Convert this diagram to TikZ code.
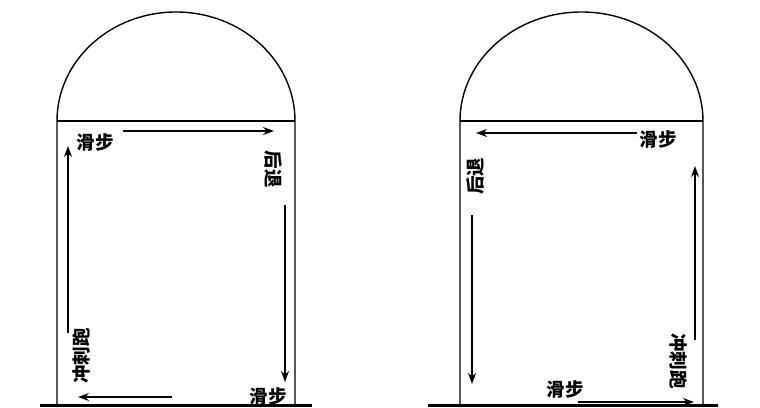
\documentclass[tikz,border=0pt]{standalone}
\usepackage{fontspec}
\newfontfamily\cjk{Noto Sans CJK SC}
\usetikzlibrary{arrows.meta}
\begin{document}
\begin{tikzpicture}[x=1pt,y=-1pt,
  outline/.style={line width=1.4pt},
  move/.style={line width=1.3pt,-{Stealth[length=11pt,width=8pt]}},
  lbl/.style={font=\cjk\bfseries\fontsize{18.5}{18.5}\selectfont, inner sep=0pt}]
\useasboundingbox (0,0) rectangle (760,407);
% left court shape
\draw[outline] (57,407) -- (57,121) arc[start angle=180,end angle=360,x radius=119,y radius=109] -- (295,407);
\draw[outline] (57,121) -- (295,121);
% right court shape
\draw[outline] (460,407) -- (460,121) arc[start angle=180,end angle=360,x radius=121.5,y radius=109] -- (703,407);
\draw[outline] (460,121) -- (703,121);
% ground lines
\draw[line width=2.2pt] (40,405.5) -- (312,405.5);
\draw[line width=2.2pt] (428,405.5) -- (718,405.5);

% left labels
\node[lbl] (l1) at (95,142) {滑步};
\node[lbl, rotate=-90] (l2) at (273,169) {后退};
\node[lbl] (l3) at (268,396) {滑步};
\node[lbl, rotate=90] (l4) at (81,356) {冲刺跑};
% left arrows
\coordinate (a1s) at (123,131); \coordinate (a1e) at (274,131);
\coordinate (a2s) at (285,205); \coordinate (a2e) at (285,382);
\coordinate (a3s) at (172,397); \coordinate (a3e) at (78,397);
\coordinate (a4s) at (68,333);  \coordinate (a4e) at (68,146);
\draw[move] (a1s) -- (a1e);
\draw[move] (a2s) -- (a2e);
\draw[move] (a3s) -- (a3e);
\draw[move] (a4s) -- (a4e);

% right labels
\node[lbl] (r1) at (658,139) {滑步};
\node[lbl, rotate=90] (r2) at (475,176) {后退};
\node[lbl] (r3) at (565,389) {滑步};
\node[lbl, rotate=-90] (r4) at (679,361) {冲刺跑};
% right arrows
\coordinate (b1s) at (637,133); \coordinate (b1e) at (476,133);
\coordinate (b2s) at (472,215); \coordinate (b2e) at (472,384);
\coordinate (b3s) at (578,402); \coordinate (b3e) at (694,402);
\coordinate (b4s) at (695,340); \coordinate (b4e) at (695,166);
\draw[move] (b1s) -- (b1e);
\draw[move] (b2s) -- (b2e);
\draw[move] (b3s) -- (b3e);
\draw[move] (b4s) -- (b4e);
\end{tikzpicture}
\end{document}
